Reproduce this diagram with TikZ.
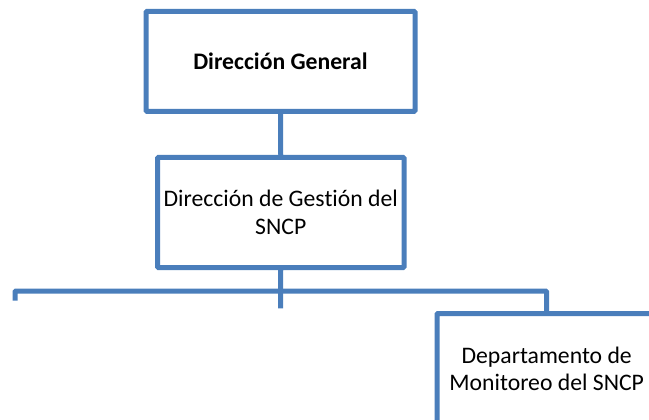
\documentclass[tikz,border=0pt]{standalone}
\usepackage{fontspec}
\setmainfont[Ligatures=NoCommon]{Carlito}
\definecolor{orgblue}{RGB}{74,126,187}
\begin{document}
\begin{tikzpicture}[x=1pt,y=-1pt,
  orgbox/.style={draw=orgblue,line width=5pt,rounded corners=1pt,fill=white,
    align=center,inner sep=0pt,font=\fontsize{23.7}{27.3}\selectfont},
  orgline/.style={draw=orgblue,line width=5pt,rounded corners=1pt}]
\useasboundingbox (0,0) rectangle (649,420);
\clip (0,0) rectangle (649,420);
\node[orgbox,minimum width=269pt,minimum height=99.8pt,font=\fontsize{23.7}{27.3}\selectfont\bfseries]
  (dg) at (280.5,61.4) {Dirección General};
\node[orgbox,minimum width=246.5pt,minimum height=110pt]
  (dgs) at (280.75,212.5) {Dirección de Gestión del\\SNCP};
\node[orgbox,minimum width=219.4pt,minimum height=111pt]
  (dm) at (546.7,369) {Departamento de\\Monitoreo del SNCP};
\coordinate (stub) at (280.5,308.3);
\coordinate (lft) at (15,300.7);
\coordinate (barR) at (546.7,291);
\draw[orgline] (dg.south) -- (dgs.north);
\draw[orgline] (dgs.south) -- (stub);
\draw[orgline] (lft) |- (barR) -- (dm.north);
\end{tikzpicture}
\end{document}
